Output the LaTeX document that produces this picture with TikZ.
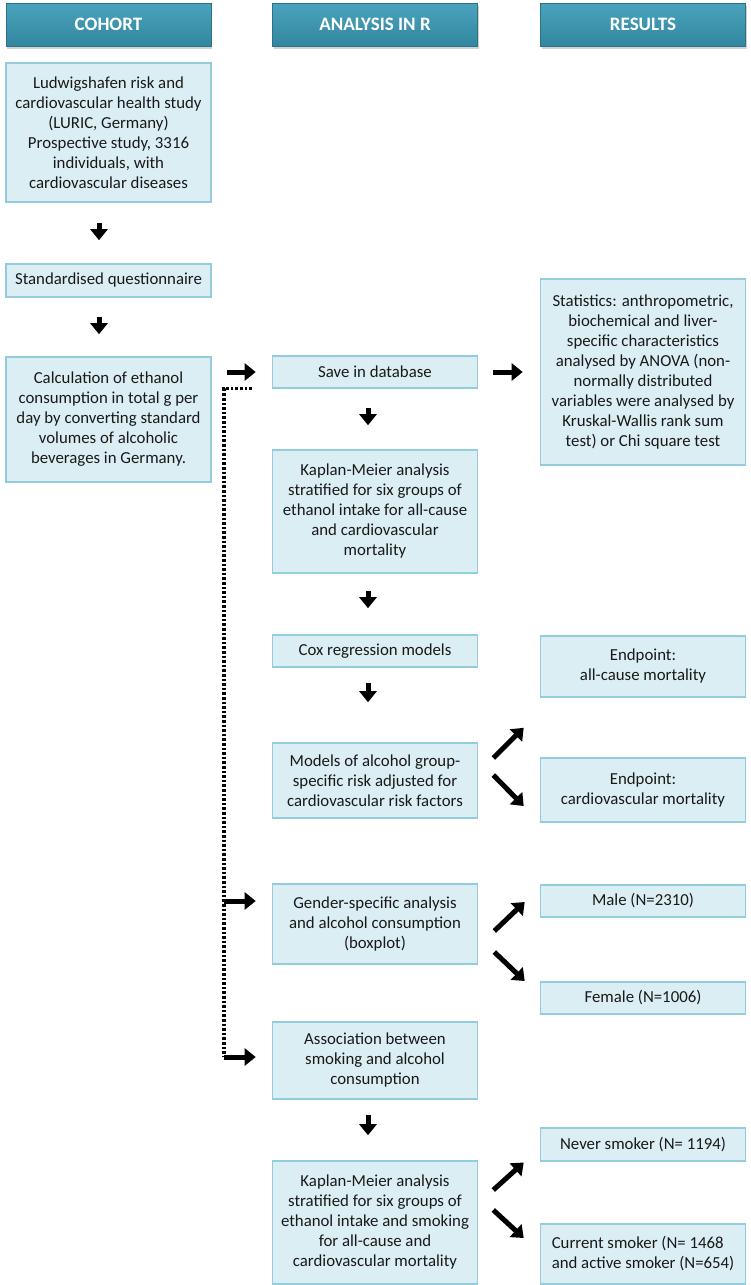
\documentclass[tikz,border=0pt]{standalone}
\usepackage{fontspec}
\setmainfont{Carlito}
\usetikzlibrary{arrows.meta,shadows,calc}
\definecolor{boxfill}{HTML}{DBEEF4}
\definecolor{boxline}{HTML}{93CDDD}
\definecolor{headtop}{HTML}{4AA3BD}
\definecolor{headbot}{HTML}{33869F}
\tikzset{
  box/.style={draw=boxline, fill=boxfill, line width=1.6pt, align=center,
    font=\fontsize{16.8}{20}\selectfont, inner sep=0pt, text=black!90},
  lbox/.style={box, minimum width=205pt},
  head/.style={draw=headbot!85!black, line width=0.8pt, top color=headtop, bottom color=headbot,
    text=white, font=\fontsize{19}{22}\selectfont\bfseries, minimum width=205pt, minimum height=43pt,
    drop shadow={shadow xshift=1pt, shadow yshift=-3pt, opacity=0.35}},
  arr/.style={-{Triangle[length=11pt,width=17pt]}, line width=5pt},
  dots/.style={line width=3.2pt, dash pattern=on 2.6pt off 2pt},
}
\begin{document}
\begin{tikzpicture}[x=1pt,y=-1pt]
\useasboundingbox (0,0) rectangle (750,1285);
\fill[white] (0,0) rectangle (750,1285);

% headers
\node[head] (h1) at (108.5,24.5) {COHORT};
\node[head] (h2) at (375,24.5) {ANALYSIS IN R};
\node[head] (h3) at (643,24.5) {RESULTS};

% left column
\node[lbox, minimum height=139pt] (b1) at (108.5,132.5) {Ludwigshafen risk and\\cardiovascular health study\\(LURIC, Germany)\\Prospective study, 3316\\individuals, with\\cardiovascular diseases};
\node[lbox, minimum height=33pt] (b2) at (108.5,280.5) {Standardised questionnaire};
\node[lbox, minimum height=125pt] (b3) at (108.5,419.5) {Calculation of ethanol\\consumption in total g per\\day by converting standard\\volumes of alcoholic\\beverages in Germany.};

% middle column
\node[lbox, minimum height=32pt] (save) at (375,372) {Save in database};
\node[lbox, minimum height=123pt] (km) at (375,511.5) {Kaplan-Meier analysis\\stratified for six groups of\\ethanol intake for all-cause\\and cardiovascular\\mortality};
\node[lbox, minimum height=32pt] (cox) at (375,651) {Cox regression models};
\node[lbox, minimum height=75pt] (models) at (375,780.5) {Models of alcohol group-\\specific risk adjusted for\\cardiovascular risk factors};
\node[lbox, minimum height=80pt] (gender) at (375,924) {Gender-specific analysis\\and alcohol consumption\\(boxplot)};
\node[lbox, minimum height=77pt] (assoc) at (375,1060.5) {Association between\\smoking and alcohol\\consumption};
\node[lbox, minimum height=123pt] (km2) at (375,1222.5) {Kaplan-Meier analysis\\stratified for six groups of\\ethanol intake and smoking\\for all-cause and\\cardiovascular mortality};

% right column
\node[lbox, minimum height=186pt] (stats) at (643,372) {Statistics: anthropometric,\\biochemical and liver-\\specific characteristics\\analysed by ANOVA (non-\\normally distributed\\variables were analysed by\\Kruskal-Wallis rank sum\\test) or Chi square test};
\node[lbox, minimum height=61pt] (ep1) at (643,666.5) {Endpoint:\\all-cause mortality};
\node[lbox, minimum height=64pt] (ep2) at (643,790) {Endpoint:\\cardiovascular mortality};
\node[lbox, minimum height=32pt] (male) at (643,901) {Male (N=2310)};
\node[lbox, minimum height=32pt] (female) at (643,998) {Female (N=1006)};
\node[lbox, minimum height=33pt] (never) at (643,1144.5) {Never smoker (N= 1194)};
\node[lbox, minimum height=60pt, align=left] (current) at (643,1254) {Current smoker (N= 1468\\and active smoker (N=654)};

% vertical arrows
\draw[arr] ([xshift=-9.5pt,yshift=-20pt]b1.south) -- ([xshift=-9.5pt,yshift=23pt]b2.north);
\draw[arr] ([xshift=-9.5pt,yshift=-19pt]b2.south) -- ([xshift=-9.5pt,yshift=22pt]b3.north);
\draw[arr] ([xshift=-7pt,yshift=-19pt]save.south) -- ([xshift=-7pt,yshift=24pt]km.north);
\draw[arr] ([xshift=-7pt,yshift=-17pt]km.south) -- ([xshift=-7pt,yshift=26pt]cox.north);
\draw[arr] ([xshift=-7pt,yshift=-15pt]cox.south) -- ([xshift=-7pt,yshift=40pt]models.north);
\draw[arr] ([xshift=-7pt,yshift=-15pt]assoc.south) -- ([xshift=-7pt,yshift=25pt]km2.north);

% horizontal arrows
\draw[arr] ($(b3.east |- save.west)+(15,0)$) -- ([xshift=-16pt]save.west);
\draw[arr] ([xshift=15pt]save.east) -- ([xshift=-17pt]stats.west);

% dotted feedback line
\coordinate (dc) at (224,1057);
\coordinate (dg) at (224,901);
\draw[dots] ([xshift=-20pt]save.south west) -| (dc);
\draw[arr, shorten >=16pt] (dg) -- (gender.west |- dg);
\draw[arr, shorten >=16pt] (dc) -- (assoc.west |- dc);

% diagonal arrows
\draw[arr] ([xshift=15pt,yshift=22.5pt]models.east) -- ([xshift=-16pt,yshift=-30pt]ep1.south west);
\draw[arr] ([xshift=15pt,yshift=5.5pt]models.east) -- ([xshift=-16pt,yshift=-16pt]ep2.west);
\draw[arr] ([xshift=16pt,yshift=-7pt]gender.east) -- ([xshift=-15pt,yshift=-1pt]male.west);
\draw[arr] ([xshift=16pt,yshift=-28pt]gender.east) -- ([xshift=-15pt,yshift=17pt]female.west);
\draw[arr] ([xshift=15pt,yshift=32.5pt]km2.east) -- ([xshift=-16pt,yshift=-18pt]never.west);
\draw[arr] ([xshift=15pt,yshift=12.5pt]km2.east) -- ([xshift=-16pt,yshift=16pt]current.west);
\end{tikzpicture}
\end{document}
